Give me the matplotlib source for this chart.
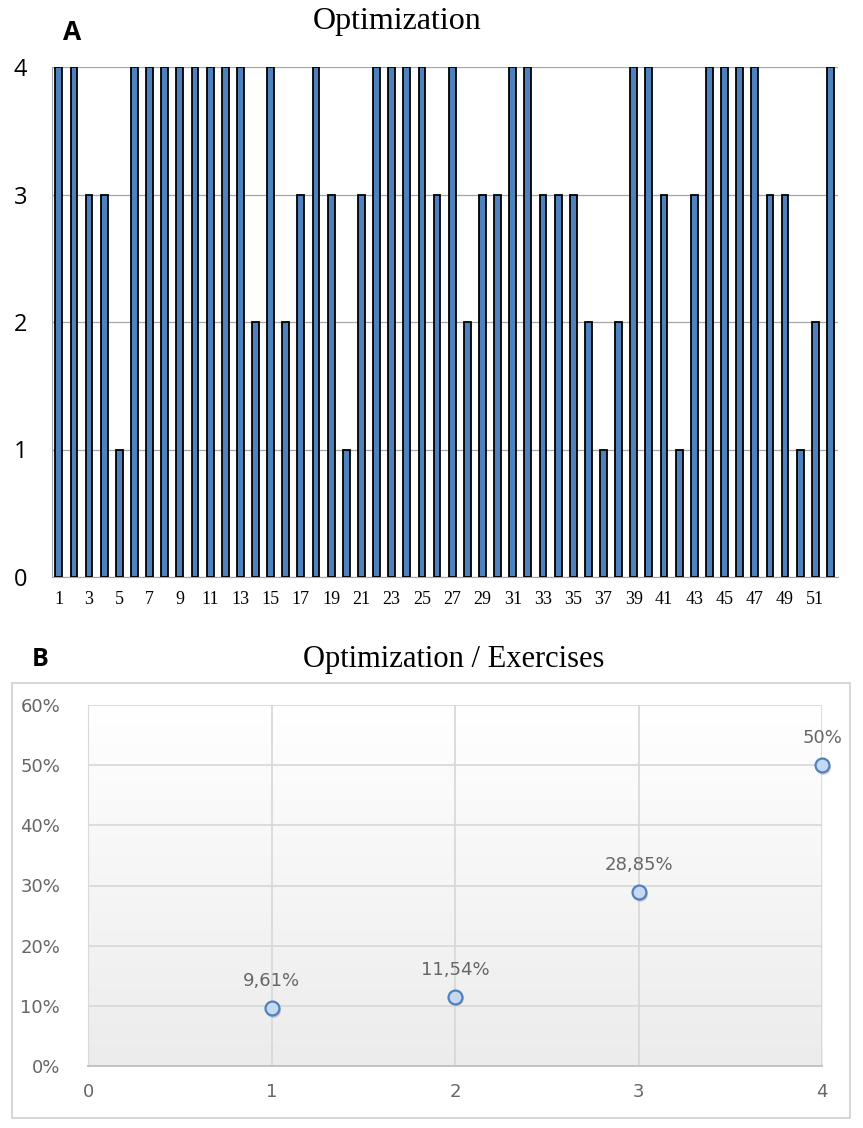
import matplotlib.pyplot as plt
import matplotlib.patches as mpatches
import numpy as np

# panel A data: score per exercise (52 exercises)
exercises = np.arange(1, 53)
scores = [4, 4, 3, 3, 1, 4, 4, 4, 4, 4, 4, 4, 4, 2, 4, 2, 3, 4, 3, 1,
          3, 4, 4, 4, 4, 3, 4, 2, 3, 3, 4, 4, 3, 3, 3, 2, 1, 2, 4, 4,
          3, 1, 3, 4, 4, 4, 4, 3, 3, 1, 2, 4]

# panel B data: share of exercises per optimization level
levels = [1, 2, 3, 4]
shares = [0.0961, 0.1154, 0.2885, 0.50]
share_labels = ["9,61%", "11,54%", "28,85%", "50%"]

W, H = 863, 1128
fig = plt.figure(figsize=(W / 100, H / 100), dpi=100)

narrow = ['Liberation Sans Narrow', 'DejaVu Sans Condensed', 'DejaVu Sans']

# ---------- A ----------
axA = fig.add_axes([52 / W, 551 / H, 786 / W, 510 / H])
axA.bar(exercises, scores, width=0.45, color='#4F81BD', edgecolor='black', lw=1.3, zorder=3)
axA.set_xlim(0.55, 52.5)
axA.set_ylim(0, 4)
axA.set_yticks([0, 1, 2, 3, 4])
axA.set_xticks(exercises[::2])
axA.set_xticklabels([str(v) for v in exercises[::2]], family='Liberation Serif', fontsize=13)
axA.set_yticklabels(['0', '1', '2', '3', '4'], family='Open Sans', fontsize=17)
axA.tick_params(axis='y', length=0, pad=18)
axA.tick_params(axis='x', length=0, pad=10)
axA.grid(True, axis='y', color='#A6A6A6', lw=0.9, zorder=0)
for s in ['top', 'right']:
    axA.spines[s].set_visible(False)
axA.spines['left'].set_color('#A6A6A6')
axA.spines['bottom'].set_color('#A6A6A6')
fig.text(397 / W, 1 - 22 / H, "Optimization", family='Liberation Serif', fontsize=23,
         ha='center', va='center')
fig.text(72 / W, 1 - 33 / H, "A", family='Open Sans', fontweight='bold', fontsize=19,
         ha='center', va='center')

# ---------- B ----------
box = mpatches.Rectangle((12 / W, 10 / H), 838 / W, 435 / H, transform=fig.transFigure,
                         fill=False, edgecolor='#D0D0D0', lw=1.2)
fig.add_artist(box)
fig.text(454 / W, 1 - 660 / H, "Optimization / Exercises", family='Liberation Serif',
         fontsize=22, ha='center', va='center')
fig.text(40 / W, 1 - 660 / H, "B", family='Open Sans', fontweight='bold', fontsize=18,
         ha='center', va='center')

axB = fig.add_axes([88 / W, 62 / H, 734 / W, 361 / H])
grad = np.linspace(1.0, 0.925, 256).reshape(-1, 1)
axB.imshow(np.dstack([grad, grad, grad]), extent=[0, 4, 0, 0.6], aspect='auto',
           origin='upper', zorder=0)
axB.set_xlim(0, 4)
axB.set_ylim(0, 0.6)
axB.set_xticks([0, 1, 2, 3, 4])
axB.set_yticks(np.arange(0, 0.61, 0.1))
axB.set_yticklabels(["0%", "10%", "20%", "30%", "40%", "50%", "60%"], family=narrow,
                    fontsize=13, color='#666666')
axB.set_xticklabels(["0", "1", "2", "3", "4"], family=narrow, fontsize=13, color='#666666')
axB.tick_params(length=0)
axB.tick_params(axis='x', pad=12)
axB.tick_params(axis='y', pad=20)
axB.grid(True, color='#D9D9D9', lw=1.3, zorder=1)
for s in ['top', 'right']:
    axB.spines[s].set_visible(False)
axB.spines['left'].set_color('#D9D9D9')
axB.spines['bottom'].set_color('#BFBFBF')
axB.spines['bottom'].set_linewidth(1.3)

# marker shadow then marker
axB.plot(np.array(levels) + 0.008, np.array(shares) - 0.003, 'o', ms=10.5,
         color='#9A9A9A', alpha=0.5, mec='none', zorder=3, clip_on=False)
axB.plot(levels, shares, 'o', ms=10, mfc='#C6D9F1', mec='#4F81BD', mew=1.6,
         zorder=4, clip_on=False)
for x, y, lab in zip(levels, shares, share_labels):
    axB.annotate(lab, (x, y), xytext=(0, 13), textcoords='offset points', ha='center',
                 va='bottom', family=narrow, fontsize=13, color='#666666')

fig.savefig('out.png', dpi=100)
